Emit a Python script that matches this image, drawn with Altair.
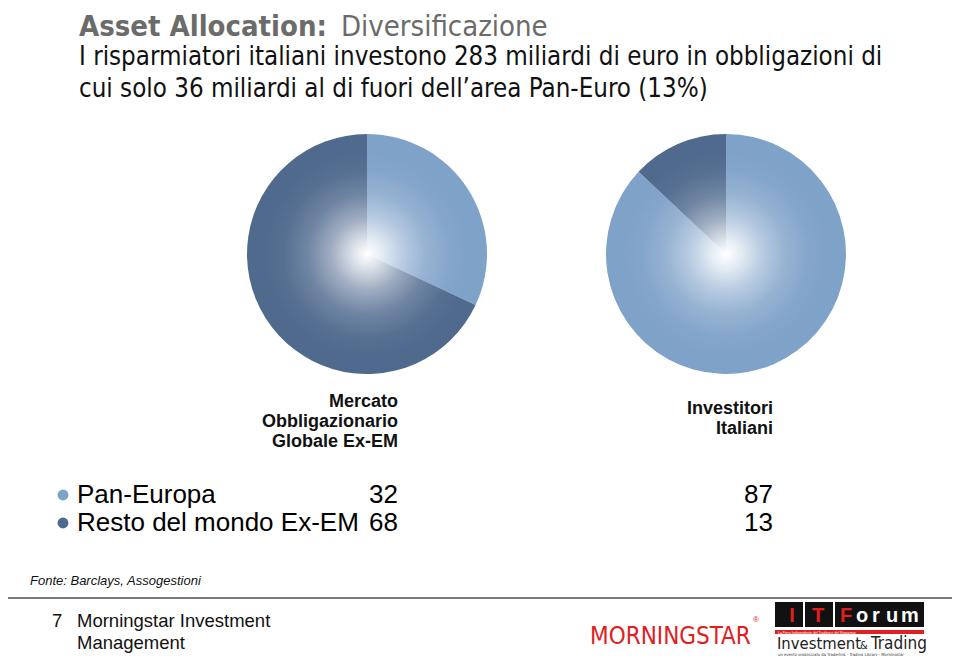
import altair as alt
import pandas as pd

# ---- data ----
categories = ["Pan-Europa", "Resto del mondo Ex-EM"]
mercato = [32, 68]
investitori = [87, 13]
order_idx = [0, 1]
slice_colors = ["#7fa2c9", "#506a8e"]

title_bold = "Asset Allocation:"
title_light = "Diversificazione"
subtitle = [
    "I risparmiatori italiani investono 283 miliardi di euro in obbligazioni di",
    "cui solo 36 miliardi al di fuori dell\u2019area Pan-Euro (13%)",
]
header_left = ["Mercato", "Obbligazionario", "Globale Ex-EM"]
header_right = ["Investitori", "Italiani"]
source = "Fonte: Barclays, Assogestioni"

df = pd.DataFrame({"category": categories, "mercato": mercato,
                   "investitori": investitori, "idx": order_idx})

NARROW = "DejaVu Sans Condensed, Liberation Sans Narrow, sans-serif"
SANS = "Liberation Sans, Arial, Helvetica, sans-serif"
RED = "#e0201e"

color = alt.Color("category:N", scale=alt.Scale(domain=categories, range=slice_colors), legend=None)
base = alt.Chart(df)

R = 120
CX1, CX2, CY = 359, 718, 246


def pie(field, cx):
    return base.mark_arc(outerRadius=R, strokeWidth=0).encode(
        theta=alt.Theta(f"{field}:Q", stack=True),
        color=color,
        order=alt.Order("idx:Q", sort="ascending"),
        x=alt.value(cx), y=alt.value(CY),
    )


glow = alt.RadialGradient(
    gradient="radial",
    stops=[
        alt.GradientStop(offset=0.0, color="rgba(255,255,255,1)"),
        alt.GradientStop(offset=0.12, color="rgba(255,255,255,0.8)"),
        alt.GradientStop(offset=0.3, color="rgba(255,255,255,0.45)"),
        alt.GradientStop(offset=0.5, color="rgba(255,255,255,0.18)"),
        alt.GradientStop(offset=0.7, color="rgba(255,255,255,0.04)"),
        alt.GradientStop(offset=0.85, color="rgba(255,255,255,0)"),
        alt.GradientStop(offset=1.0, color="rgba(255,255,255,0)"),
    ],
)


def halo(cx):
    return base.transform_filter(alt.datum.idx == 0).mark_point(
        shape="circle", filled=True, size=(2 * R) ** 2, fill=glow,
        strokeWidth=0, opacity=1,
    ).encode(x=alt.value(cx), y=alt.value(CY))


def txt(text, x, y, size, font=SANS, weight="normal", col="#000", align="left",
        style="normal", baseline="alphabetic"):
    return alt.Chart(pd.DataFrame({"t": [text]})).mark_text(
        font=font, fontSize=size, fontWeight=weight, color=col, align=align,
        fontStyle=style, baseline=baseline,
    ).encode(text="t:N", x=alt.value(x), y=alt.value(y))


layers = []
# title and subtitle
layers.append(txt(title_bold, 71, 28, 29, NARROW, "bold", "#6b6b6b"))
layers.append(txt(title_light, 333, 28, 29, NARROW, "normal", "#6b6b6b"))
layers.append(txt(subtitle[0], 71, 57, 25.7, NARROW, "normal", "#111"))
layers.append(txt(subtitle[1], 71, 89, 25.7, NARROW, "normal", "#111"))

# pies
layers += [pie("mercato", CX1), halo(CX1), pie("investitori", CX2), halo(CX2)]

# column headers
for i, h in enumerate(header_left):
    layers.append(txt(h, 390, 399 + 20 * i, 18, SANS, "bold", "#111", "right"))
for i, h in enumerate(header_right):
    layers.append(txt(h, 765, 406 + 20 * i, 18, SANS, "bold", "#111", "right"))

# legend table
ypos = alt.Y("category:N", scale=alt.Scale(domain=categories, range=[487, 515], padding=0), axis=None)
layers.append(base.mark_point(shape="circle", filled=True, size=120, opacity=1, strokeWidth=0).encode(
    x=alt.value(55), y=ypos, color=color))
layers.append(base.mark_text(font=SANS, fontSize=26, align="left", baseline="middle", color="#000").encode(
    x=alt.value(69), y=ypos, text="category:N"))
layers.append(base.mark_text(font=SANS, fontSize=26, align="right", baseline="middle", color="#000").encode(
    x=alt.value(390), y=ypos, text="mercato:Q"))
layers.append(base.mark_text(font=SANS, fontSize=26, align="right", baseline="middle", color="#000").encode(
    x=alt.value(765), y=ypos, text="investitori:Q"))

# source
layers.append(txt(source, 22, 577, 13, SANS, "normal", "#111", style="italic"))

# footer rule
one = pd.DataFrame({"a": [0]})
layers.append(alt.Chart(one).mark_rule(color="#7a7a7a", strokeWidth=2).encode(
    x=alt.value(0), x2=alt.value(944), y=alt.value(590)))
layers.append(txt("7", 44, 619, 18.5, SANS, "normal", "#111"))
layers.append(txt("Morningstar Investment", 69, 619, 18.5, SANS, "normal", "#111"))
layers.append(txt("Management", 69, 641, 18.5, SANS, "normal", "#111"))

# Morningstar logo
layers.append(txt("MORNINGSTAR", 582, 636, 24, NARROW, "normal", RED))
layers.append(txt("\u00ae", 745, 614, 8, SANS, "normal", RED))

# IT Forum logo
layers.append(alt.Chart(one).mark_rect(color="#111").encode(
    x=alt.value(767), x2=alt.value(916), y=alt.value(594), y2=alt.value(619)))
for xv in (795, 825):
    layers.append(alt.Chart(one).mark_rect(color="#ffffff").encode(
        x=alt.value(xv), x2=alt.value(xv + 2), y=alt.value(594), y2=alt.value(619)))
layers.append(alt.Chart(one).mark_rect(color=RED).encode(
    x=alt.value(767), x2=alt.value(916), y=alt.value(622), y2=alt.value(626)))
layers.append(txt("I", 784, 614, 20, SANS, "bold", RED, "center"))
layers.append(txt("T", 810, 614, 20, SANS, "bold", RED, "center"))
layers.append(txt("F", 838, 614, 20, SANS, "bold", RED, "center"))
for ch, xv in zip("orum", (854, 868, 884, 902)):
    layers.append(txt(ch, xv, 614, 20, SANS, "bold", "#ffffff", "center"))
layers.append(txt("La Fiera Indipendente del Trading e del Risparmio", 770, 625.5, 3.5, SANS, "normal", "#ffffff"))
layers.append(txt("Investment", 769, 641, 16.5, NARROW, "normal", "#222"))
layers.append(txt("&", 852, 641, 11, NARROW, "normal", "#222"))
layers.append(txt("Trading", 863, 641, 17, NARROW, "normal", "#222"))
layers.append(txt("un evento organizzato da Traderlink - Trading Library - Morningstar", 770, 648, 4.2, NARROW, "normal", "#333"))

chart = alt.layer(*layers).resolve_scale(theta="independent").properties(
    width=944, height=648, padding=0,
    autosize=alt.AutoSizeParams(type="none"),
).configure_view(stroke=None)

chart.save("out.html", embed_options={"renderer": "svg", "actions": False})
